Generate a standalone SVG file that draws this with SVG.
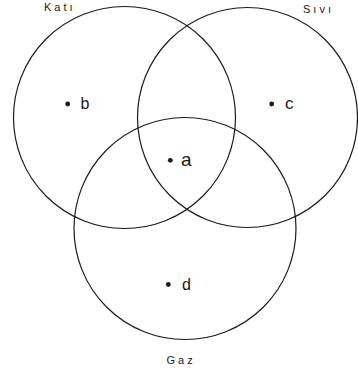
<svg xmlns="http://www.w3.org/2000/svg" width="358" height="376" viewBox="0 0 358 376">
<style>
.c{fill:none;stroke:#1a1a1a;stroke-width:1.2}
.t{font-family:"Liberation Sans",Arial,sans-serif;fill:#1a1a1a}
.s{font-size:11px;letter-spacing:3px}
.l{font-size:16px}
.d{fill:#1a1a1a}
</style>
<rect width="358" height="376" fill="#fff"/>
<g id="kati">
<circle class="c" cx="124.5" cy="117.5" r="111"/>
<text class="t s" x="44" y="11">Katı</text>
</g>
<g id="sivi">
<circle class="c" cx="247.5" cy="117.5" r="110"/>
<text class="t s" x="303" y="12.5">Sıvı</text>
</g>
<g id="gaz">
<circle class="c" cx="185" cy="228.5" r="111"/>
<text class="t s" x="166.5" y="363.5">Gaz</text>
</g>
<g id="pt-b">
<circle class="d" cx="67.7" cy="104" r="2.4"/>
<text class="t l" x="80.5" y="109">b</text>
</g>
<g id="pt-c">
<circle class="d" cx="271.7" cy="104" r="2.4"/>
<text class="t" style="font-size:17px" x="285" y="108.5">c</text>
</g>
<g id="pt-a">
<circle class="d" cx="170.3" cy="160.3" r="2.4"/>
<text class="t" style="font-size:19px" x="181" y="165.5">a</text>
</g>
<g id="pt-d">
<circle class="d" cx="168.3" cy="284.5" r="2.4"/>
<text class="t l" x="182" y="290">d</text>
</g>
</svg>
